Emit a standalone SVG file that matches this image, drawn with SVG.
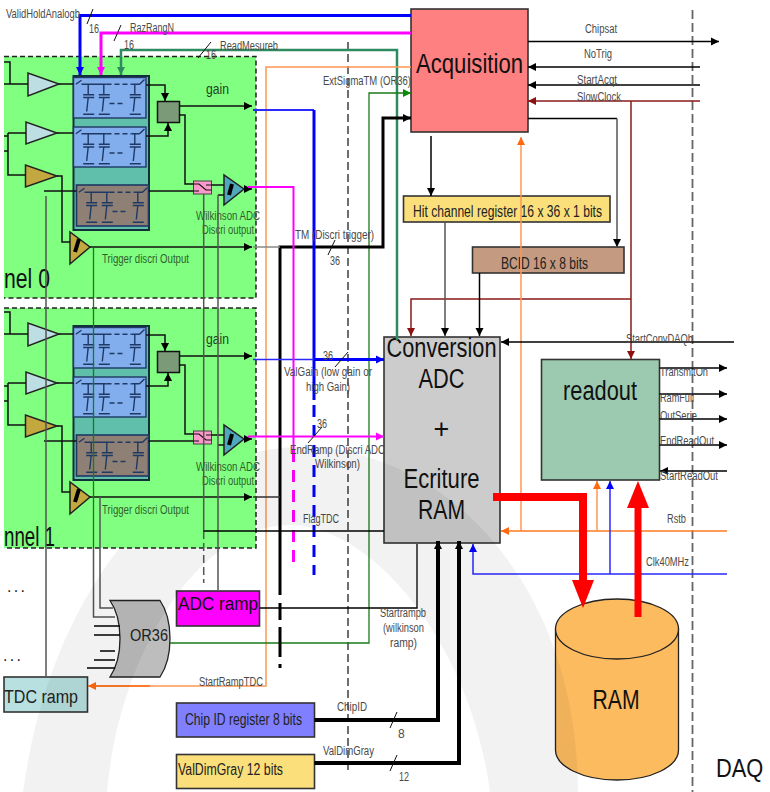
<svg xmlns="http://www.w3.org/2000/svg" xmlns:xlink="http://www.w3.org/1999/xlink" width="770" height="792" viewBox="0 0 770 792">
<style>
text{font-family:"Liberation Sans",Arial,sans-serif}
.lab{font-size:12px;fill:#4a4a4a}
.grn{font-size:12px;fill:#2f5f2f}
.big{font-size:27px;fill:#111;text-anchor:middle}
.mid{font-size:16px;fill:#222}
.box{stroke:#333;stroke-width:1.6}
.w{fill:none;stroke:#111;stroke-width:1.5}
.k{fill:none;stroke:#000;stroke-width:1.5}
.kt{fill:none;stroke:#000;stroke-width:3}
.kh{fill:none;stroke:#000;stroke-width:4}
.gy{fill:none;stroke:#555;stroke-width:1.5}
.bl{fill:none;stroke:#0000ff;stroke-width:3}
.bn{fill:none;stroke:#2a2aff;stroke-width:1.5}
.mg{fill:none;stroke:#ff00ff;stroke-width:3}
.mn{fill:none;stroke:#ff00ff;stroke-width:2}
.gn{fill:none;stroke:#2e8b5f;stroke-width:2.5}
.dg{fill:none;stroke:#1a7a1a;stroke-width:1.3}
.or{fill:none;stroke:#ff9650;stroke-width:1.5}
.rd{fill:none;stroke:#8b1a1a;stroke-width:1.5}
.ch{fill:none;stroke:#111;stroke-width:1}
.cell path{fill:none;stroke:#1f3864;stroke-width:1.4}
</style>
<defs>
<clipPath id="outsideChannels"><path d="M0,548 H770 V792 H0 Z M256,0 H770 V548 H256 Z"/></clipPath>
<marker id="aK" markerUnits="userSpaceOnUse" markerWidth="10" markerHeight="10" refX="8" refY="5" orient="auto"><path d="M0,1 L8,5 L0,9 Z" fill="#000"/></marker>
<marker id="aB" markerUnits="userSpaceOnUse" markerWidth="10" markerHeight="10" refX="8" refY="5" orient="auto"><path d="M0,1 L8,5 L0,9 Z" fill="#0000ff"/></marker>
<marker id="aM" markerUnits="userSpaceOnUse" markerWidth="10" markerHeight="10" refX="8" refY="5" orient="auto"><path d="M0,1 L8,5 L0,9 Z" fill="#ff00ff"/></marker>
<marker id="aG" markerUnits="userSpaceOnUse" markerWidth="10" markerHeight="10" refX="8" refY="5" orient="auto"><path d="M0,1 L8,5 L0,9 Z" fill="#2e8b5f"/></marker>
<marker id="aD" markerUnits="userSpaceOnUse" markerWidth="10" markerHeight="10" refX="8" refY="5" orient="auto"><path d="M0,1 L8,5 L0,9 Z" fill="#0a8a0a"/></marker>
<marker id="aO" markerUnits="userSpaceOnUse" markerWidth="10" markerHeight="10" refX="8" refY="5" orient="auto"><path d="M0,1 L8,5 L0,9 Z" fill="#ff6a10"/></marker>
<marker id="aR" markerUnits="userSpaceOnUse" markerWidth="10" markerHeight="10" refX="8" refY="5" orient="auto"><path d="M0,1 L8,5 L0,9 Z" fill="#8b1010"/></marker>
<g id="cellInner" class="cell">
<path d="M2.3,6.7 L8,2.7 M8,6.7 H33 M58,6.7 H66 M66,6.7 L71,2"/>
<path d="M33,6.7 H58 M36,26 H50" stroke-dasharray="5 3"/>
<path d="M14.7,6.7 V17 M9.7,17.3 H20.7 M9.7,20 H20.7 M14.7,20 L13.2,34 M9.7,36.7 H20.7"/>
<path d="M30.3,6.7 V17 M25.3,17.3 H36.3 M25.3,20 H36.3 M30.3,20 L28.8,34 M25.3,36.7 H36.3"/>
<path d="M61.3,6.7 V17 M56.3,17.3 H67.3 M56.3,20 H67.3 M61.3,20 L59.8,34 M56.3,36.7 H67.3"/>
</g>
<g id="channelParts">
<rect x="73.5" y="76" width="75.5" height="154" fill="#5fbfaa" stroke="#12303a" stroke-width="2"/>
<rect x="73.5" y="77.5" width="72.5" height="40.5" fill="#82aeee" stroke="#1f3864" stroke-width="1.4"/>
<use xlink:href="#cellInner" href="#cellInner" x="73.5" y="77.5"/>
<rect x="73.5" y="127" width="72.5" height="40" fill="#82aeee" stroke="#1f3864" stroke-width="1.4"/>
<use xlink:href="#cellInner" href="#cellInner" x="73.5" y="127"/>
<rect x="76.5" y="185" width="72" height="41" fill="#8e8074" stroke="#1f3864" stroke-width="1.6"/>
<use xlink:href="#cellInner" href="#cellInner" x="76.5" y="185.5"/>
<path d="M28,73 V96 L59,84 Z" fill="#bddfe4" stroke="#222" stroke-width="1.5"/>
<path d="M26,122 V144 L57,133 Z" fill="#bddfe4" stroke="#222" stroke-width="1.5"/>
<path d="M25.5,165 V187 L57,176 Z" fill="#c2a83e" stroke="#222" stroke-width="1.5"/>
<path d="M70,232 V264 L90,247 Z" fill="#c2a83e" stroke="#222" stroke-width="1.5"/>
<path d="M79,239 L75,252" fill="none" stroke="#000" stroke-width="4"/>
<rect x="157.5" y="101.5" width="22" height="21" fill="#7a9a78" stroke="#111" stroke-width="1.5"/>
<rect x="193.5" y="181" width="18" height="13" fill="#ff99cc" stroke="#444" stroke-width="1"/>
<path d="M193.5,184 H199 L206,190 H211.5 M193.5,191 H199 M206,185 H211.5" fill="none" stroke="#111" stroke-width="1.2"/>
<path d="M224,175 V205 L244,189 Z" fill="#4fa8bc" stroke="#222" stroke-width="1.5"/>
<path d="M232,184 L229,195" fill="none" stroke="#000" stroke-width="4"/>
</g>
<g id="channelWires">
<path class="w" d="M4,84 H28 M59,84 H73.5 M8,133 H26 M8,133 V175 H25.5 M4,136 H8 M4,151 H8 M57,133 H73.5"/>
<path class="w" d="M4,62 H10 V84"/>
<path class="w" d="M57,176 H62 V242 H70"/>
<path class="w" d="M44,191 H76.5 M148.5,191 H193.5"/>
<path class="w" marker-end="url(#aK)" d="M146,85 H165 V101"/>
<path class="w" marker-end="url(#aK)" d="M146,136 H168 V123"/>
<path class="w" marker-end="url(#aK)" d="M179.5,106 H252"/>
<path class="w" d="M179.5,115 H185 V184 H193.5 M211.5,185 H224"/>
<path class="w" marker-end="url(#aK)" d="M90,247 H252"/>
<path class="w" marker-end="url(#aK)" d="M244,189 H252"/>
<path class="w" d="M218,195 H224"/>
</g>
</defs>

<g id="channel0">
<rect x="4" y="56.5" width="252" height="241.500" fill="#80ff80"/>
<path d="M4,56.500 H256 V298 H4" fill="none" stroke="#222" stroke-width="1.500" stroke-dasharray="5 3"/>
<use xlink:href="#channelParts" href="#channelParts"/>
<text x="206" y="94" class="grn" style="font-size:14px;fill:#224422" textLength="23" lengthAdjust="spacingAndGlyphs">gain</text>
<text x="196" y="220" class="grn" textLength="64" lengthAdjust="spacingAndGlyphs">Wilkinson ADC</text>
<text x="202" y="234" class="grn" textLength="52" lengthAdjust="spacingAndGlyphs">Discri output</text>
<text x="102" y="263" class="grn" textLength="87" lengthAdjust="spacingAndGlyphs">Trigger discri Output</text>
<text x="4" y="288" style="font-size:27px;fill:#111" textLength="46" lengthAdjust="spacingAndGlyphs">nel 0</text>
</g>
<g id="channel1">
<rect x="4" y="308" width="252" height="240" fill="#80ff80"/>
<path d="M4,308 H256 V548 H4" fill="none" stroke="#222" stroke-width="1.500" stroke-dasharray="5 3"/>
<use xlink:href="#channelParts" href="#channelParts" y="250"/>
<text x="206" y="344" class="grn" style="font-size:14px;fill:#224422" textLength="23" lengthAdjust="spacingAndGlyphs">gain</text>
<text x="196" y="471" class="grn" textLength="64" lengthAdjust="spacingAndGlyphs">Wilkinson ADC</text>
<text x="202" y="485" class="grn" textLength="52" lengthAdjust="spacingAndGlyphs">Discri output</text>
<text x="102" y="514" class="grn" textLength="87" lengthAdjust="spacingAndGlyphs">Trigger discri Output</text>
<text x="4" y="546" style="font-size:27px;fill:#111" textLength="51" lengthAdjust="spacingAndGlyphs">nnel 1</text>
</g>

<g id="acquisition">
<rect x="411" y="9" width="117" height="123" fill="#ff8080" class="box"/>
<text x="469.500" y="73" class="big" textLength="107" lengthAdjust="spacingAndGlyphs">Acquisition</text>
</g>
<g id="hit-register">
<rect x="403.500" y="196" width="206.500" height="26" fill="#fbdf7b" class="box"/>
<text x="413" y="217" class="mid" textLength="189" lengthAdjust="spacingAndGlyphs">Hit channel register 16 x 36 x 1 bits</text>
</g>
<g id="bcid">
<rect x="472.500" y="247" width="151.500" height="26" fill="#c49a80" class="box"/>
<text x="501" y="269" class="mid" textLength="87" lengthAdjust="spacingAndGlyphs">BCID 16 x 8 bits</text>
</g>
<g id="conversion">
<rect x="384" y="337" width="116" height="206" fill="#cccccc" class="box"/>
<text x="441.500" y="357" class="big" textLength="110" lengthAdjust="spacingAndGlyphs">Conversion</text>
<text x="441.500" y="388" class="big" textLength="46" lengthAdjust="spacingAndGlyphs">ADC</text>
<text x="441.500" y="438" class="big">+</text>
<text x="441.500" y="488" class="big" textLength="76" lengthAdjust="spacingAndGlyphs">Ecriture</text>
<text x="441.500" y="519" class="big" textLength="47" lengthAdjust="spacingAndGlyphs">RAM</text>
</g>
<g id="readout">
<rect x="541.500" y="359.500" width="118" height="120.500" fill="#9ccab0" class="box"/>
<text x="600" y="400" class="big" textLength="74" lengthAdjust="spacingAndGlyphs">readout</text>
</g>
<g id="ram">
<path d="M555.500,629 V750 A61.500,30 0 0 0 678.500,750 V629 Z" fill="#fdbb60" stroke="#222" stroke-width="1.300"/>
<ellipse cx="617" cy="629" rx="61.500" ry="30" fill="#fdbb60" stroke="#222" stroke-width="1.300"/>
<text x="616" y="709" class="big" textLength="47" lengthAdjust="spacingAndGlyphs">RAM</text>
</g>
<g id="adc-ramp">
<rect x="176.500" y="591" width="83" height="35" fill="#ff00ff" class="box"/>
<text x="178" y="610" style="font-size:19px;fill:#111" textLength="80" lengthAdjust="spacingAndGlyphs">ADC ramp</text>
</g>
<g id="tdc-ramp">
<rect x="4" y="677" width="83.500" height="35" fill="#b8e0e0" class="box"/>
<text x="4" y="703" style="font-size:19px;fill:#222" textLength="74" lengthAdjust="spacingAndGlyphs">TDC ramp</text>
</g>
<g id="or36">
<path d="M110,600.500 H160 Q170,615 170,638.500 Q170,662 160,677 H110 Q120,662 120,638.500 Q120,615 110,600.500 Z" fill="#bdbdbd" stroke="#222" stroke-width="1.300"/>
<text x="130" y="641" style="font-size:17px;fill:#222" textLength="38" lengthAdjust="spacingAndGlyphs">OR36</text>
</g>
<g id="chip-id">
<rect x="176.500" y="703" width="138" height="34" fill="#7f7fff" class="box"/>
<text x="185" y="725" class="mid" textLength="117" lengthAdjust="spacingAndGlyphs">Chip ID register 8 bits</text>
</g>
<g id="valdimgray">
<rect x="176.500" y="754.500" width="138" height="34" fill="#fbdf7b" class="box"/>
<text x="178" y="775" class="mid" textLength="105" lengthAdjust="spacingAndGlyphs">ValDimGray 12 bits</text>
</g>
<text id="daq" transform="translate(716,777) scale(0.95,1.15)" style="font-size:23px;fill:#111">DAQ</text>

<g id="connectors">
<use xlink:href="#channelWires" href="#channelWires"/>
<use xlink:href="#channelWires" href="#channelWires" y="250"/>
<path d="M348,42 V770" fill="none" stroke="#222" stroke-width="1.300" stroke-dasharray="8 4"/>
<path d="M692.500,10 V792" fill="none" stroke="#666" stroke-width="1.800" stroke-dasharray="9 4"/>

<path class="bl" marker-end="url(#aB)" d="M411,15.500 H80 V75"/>
<path class="mg" marker-end="url(#aM)" d="M411,33 H101 V75"/>
<path class="gn" d="M121,66 V50 H397 V340"/>
<path class="gn" marker-end="url(#aG)" d="M121,66 V75"/>
<path class="or" d="M411,67 H266 V686 H90"/>
<path class="or" style="stroke:#ff6a10" marker-end="url(#aO)" d="M150,686 H88"/>
<path class="dg" marker-end="url(#aD)" d="M170,643 H369 V93 H411"/>
<path class="kt" marker-end="url(#aK)" d="M280,595 V247 H383 V118 H411"/>
<path d="M253,247 H280" fill="none" stroke="#888" stroke-width="1.500"/>
<path d="M253,497 H280" fill="none" stroke="#333" stroke-width="1.500"/>
<path d="M280,603 V620 M280,627 V657 M280,664 V668" fill="none" stroke="#000" stroke-width="3"/>

<path class="bn" style="stroke-width:2" d="M253,110 H314"/>
<path class="bl" d="M314,110 V400"/>
<path class="bl" d="M314,405 V575" stroke-dasharray="12 8"/>
<path class="bn" d="M253,359.500 H314"/>
<path class="bl" marker-end="url(#aB)" d="M314,359.500 H384"/>
<path class="mn" d="M248,187 H293.500 V450"/>
<path class="mn" style="stroke-width:3" d="M293.500,450 V570" stroke-dasharray="12 8"/>
<path class="mn" marker-end="url(#aM)" d="M248,436.500 H384"/>

<path class="gy" d="M46,196 V677"/>
<path class="dg" d="M93.500,248 V548"/>
<path class="gy" d="M93.500,548 V617 H115"/>
<path class="gy" d="M100,497 V608 H113"/>
<path class="gy" d="M203.700,194 V531"/>
<path class="gy" d="M203.700,531 V583" stroke-dasharray="8 4"/>
<path class="gy" d="M218,195 V590"/>
<path class="k" d="M203.700,531 H384"/>
<path class="k" d="M94,626 H120 M94,635 H120 M100,651 H115 M94,660 H115 M87,668 H115"/>
<path class="k" style="stroke-width:1.300" d="M259.500,608 H417 V544"/>

<path class="kh" marker-end="url(#aK)" d="M314.500,720 H438 V541"/>
<path class="kh" marker-end="url(#aK)" d="M314.500,763 H459 V541"/>
<path class="ch" d="M390,728 L397,712 M390,771 L397,755"/>

<path class="k" marker-end="url(#aK)" d="M528,41.500 H719"/>
<path class="k" marker-end="url(#aK)" d="M700,67 H528"/>
<path class="k" marker-end="url(#aK)" d="M700,85 H528"/>
<path class="rd" marker-end="url(#aR)" d="M700,101 H528"/>
<path class="rd" marker-end="url(#aR)" d="M631,101 V359"/>
<path class="rd" marker-end="url(#aR)" d="M631,299 H411 V336"/>
<path class="k" marker-end="url(#aK)" d="M431,136 V196"/>
<path class="k" d="M528,118.500 H617"/>
<path class="gy" marker-end="url(#aK)" d="M617,118.500 V247"/>
<path class="gy" marker-end="url(#aK)" d="M445,222 V336"/>
<path class="k" marker-end="url(#aK)" d="M479.500,273 V336"/>
<path class="or" marker-end="url(#aO)" d="M521,531 V137"/>
<path class="or" style="stroke:#ff7a20" marker-end="url(#aO)" d="M727,531 H501"/>
<path class="or" marker-end="url(#aO)" d="M597,531 V481"/>
<path class="bn" marker-end="url(#aB)" d="M727,574 H473 V544"/>
<path class="bn" marker-end="url(#aB)" d="M610,574 V481"/>
<path class="k" marker-end="url(#aK)" d="M734,342 H501"/>
<path class="k" marker-end="url(#aK)" d="M659.500,368 H727"/>
<path class="k" marker-end="url(#aK)" d="M659.500,394 H727"/>
<path class="k" marker-end="url(#aK)" d="M659.500,419 H727"/>
<path class="k" marker-end="url(#aK)" d="M659.500,445 H727"/>
<path class="k" marker-end="url(#aK)" d="M727,471 H660"/>

<path d="M493,497 H583 V582" fill="none" stroke="#ff0000" stroke-width="8"/>
<path d="M572,580 H594 L583,608 Z" fill="#ff0000"/>
<path d="M638,617 V506" fill="none" stroke="#ff0000" stroke-width="7"/>
<path d="M627,508 L638,481 L649,508 Z" fill="#ff0000"/>

<path class="ch" d="M87,24 L93,9 M114,41 L121,25 M198,58 L211,42 M328,255 L335,240 M335,367 L348,352 M308,443 L322,427"/>
</g>

<g id="connector-labels">
<text x="6" y="18" class="lab" textLength="74" lengthAdjust="spacingAndGlyphs">ValidHoldAnalogb</text>
<text x="89" y="33" class="lab" textLength="10" lengthAdjust="spacingAndGlyphs">16</text>
<text x="130" y="32" class="lab" textLength="44" lengthAdjust="spacingAndGlyphs">RazRangN</text>
<text x="124" y="49" class="lab" textLength="10" lengthAdjust="spacingAndGlyphs">16</text>
<text x="220" y="50" class="lab" textLength="58" lengthAdjust="spacingAndGlyphs">ReadMesureb</text>
<text x="206" y="59" class="lab" textLength="10" lengthAdjust="spacingAndGlyphs">16</text>
<text x="323" y="85" class="lab" textLength="88" lengthAdjust="spacingAndGlyphs">ExtSigmaTM  (OR36)</text>
<text x="295" y="239" class="lab" textLength="79" lengthAdjust="spacingAndGlyphs">TM  (Discri trigger)</text>
<text x="330" y="265" class="lab" textLength="10" lengthAdjust="spacingAndGlyphs">36</text>
<text x="323" y="360" class="lab" textLength="10" lengthAdjust="spacingAndGlyphs">36</text>
<text x="284" y="376" class="lab" textLength="88" lengthAdjust="spacingAndGlyphs">ValGain  (low gain or</text>
<text x="306" y="391" class="lab" textLength="44" lengthAdjust="spacingAndGlyphs">high Gain)</text>
<text x="317" y="428" class="lab" textLength="10" lengthAdjust="spacingAndGlyphs">36</text>
<text x="290" y="454" class="lab" textLength="95" lengthAdjust="spacingAndGlyphs">EndRamp  (Discri ADC</text>
<text x="315" y="468" class="lab" textLength="45" lengthAdjust="spacingAndGlyphs">Wilkinson)</text>
<text x="303" y="523" class="lab" textLength="36" lengthAdjust="spacingAndGlyphs">FlagTDC</text>
<text x="380" y="617" class="lab" textLength="46" lengthAdjust="spacingAndGlyphs">Startrampb</text>
<text x="383" y="632" class="lab" textLength="41" lengthAdjust="spacingAndGlyphs">(wilkinson</text>
<text x="390" y="647" class="lab" textLength="27" lengthAdjust="spacingAndGlyphs">ramp)</text>
<text x="199" y="686" class="lab" textLength="64" lengthAdjust="spacingAndGlyphs">StartRampTDC</text>
<text x="337" y="711" class="lab" textLength="30" lengthAdjust="spacingAndGlyphs">ChipID</text>
<text x="398" y="738" class="lab">8</text>
<text x="323" y="755" class="lab" textLength="51" lengthAdjust="spacingAndGlyphs">ValDimGray</text>
<text x="399" y="781" class="lab" textLength="10" lengthAdjust="spacingAndGlyphs">12</text>
<text x="585" y="33" class="lab" textLength="32" lengthAdjust="spacingAndGlyphs">Chipsat</text>
<text x="584" y="58" class="lab" textLength="28" lengthAdjust="spacingAndGlyphs">NoTrig</text>
<text x="577" y="84" class="lab" textLength="40" lengthAdjust="spacingAndGlyphs">StartAcqt</text>
<text x="577" y="101" class="lab" textLength="44" lengthAdjust="spacingAndGlyphs">SlowClock</text>
<text x="626" y="343" class="lab" textLength="67" lengthAdjust="spacingAndGlyphs">StartConvDAQb</text>
<text x="660" y="376" class="lab" textLength="48" lengthAdjust="spacingAndGlyphs">TransmitOn</text>
<text x="660" y="402" class="lab" textLength="34" lengthAdjust="spacingAndGlyphs">RamFull</text>
<text x="660" y="420" class="lab" textLength="37" lengthAdjust="spacingAndGlyphs">OutSerie</text>
<text x="660" y="445" class="lab" textLength="54" lengthAdjust="spacingAndGlyphs">EndReadOut</text>
<text x="660" y="480" class="lab" textLength="58" lengthAdjust="spacingAndGlyphs">StartReadOut</text>
<text x="667" y="523" class="lab" textLength="19" lengthAdjust="spacingAndGlyphs">Rstb</text>
<text x="646" y="566" class="lab" textLength="43" lengthAdjust="spacingAndGlyphs">Clk40MHz</text>
<text x="7" y="592" style="font-size:16px;fill:#222" textLength="18">...</text>
<text x="3" y="661" style="font-size:16px;fill:#222" textLength="18">...</text>
</g>

<path id="watermark" clip-path="url(#outsideChannels)" fill="#000" fill-opacity="0.05" fill-rule="evenodd" d="M23,792 C50,590 170,447 300,447 C450,447 578,590 578,792 Z M107,792 C120,650 200,525 290,525 C370,525 470,640 490,792 Z"/>
</svg>
